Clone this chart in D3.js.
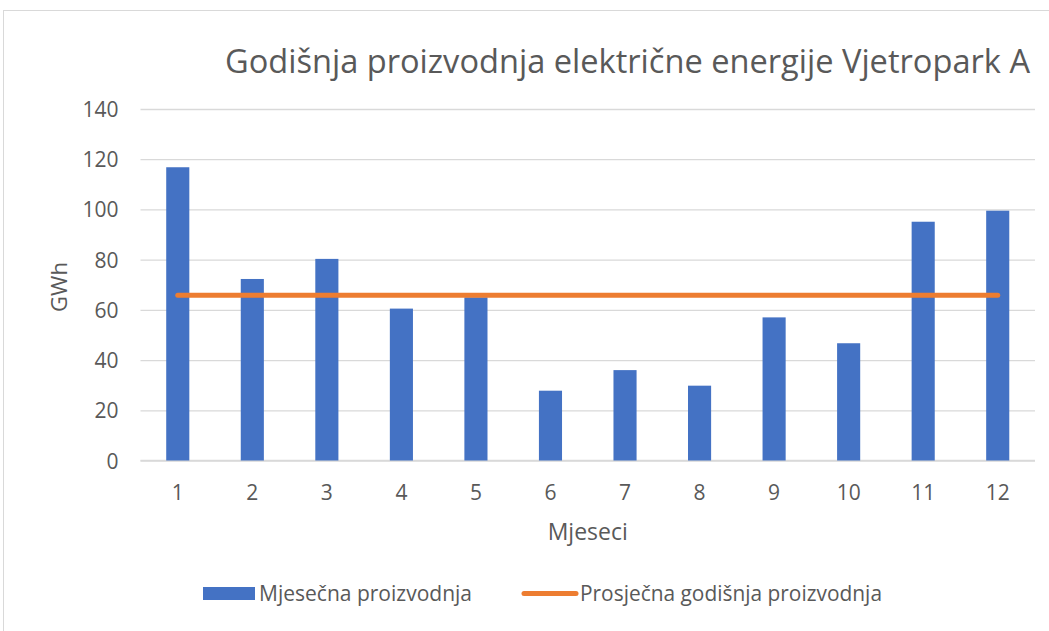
<!DOCTYPE html>
<html>
<head>
<meta charset="utf-8">
<script src="https://cdn.jsdelivr.net/npm/d3@7/dist/d3.min.js"></script>
<style>
  html, body { margin: 0; padding: 0; background: #ffffff; }
  svg { display: block; font-family: "Open Sans", "Noto Sans", sans-serif; }
</style>
</head>
<body>
<svg id="chart" width="1049" height="631"></svg>
<script>
// Monthly wind-farm output (GWh) and the yearly average line
const months = ["1", "2", "3", "4", "5", "6", "7", "8", "9", "10", "11", "12"];
const monthlyOutput = [116.8, 72.3, 80.3, 60.5, 65.0, 27.8, 36.0, 29.8, 57.0, 46.7, 95.1, 99.5];
const averageOutput = [65.8, 65.8, 65.8, 65.8, 65.8, 65.8, 65.8, 65.8, 65.8, 65.8, 65.8, 65.8];
const yTicks = [0, 20, 40, 60, 80, 100, 120, 140];

const titleText = "Godišnja proizvodnja električne energije Vjetropark A";
const xTitle = "Mjeseci";
const yTitle = "GWh";
const seriesNames = ["Mjesečna proizvodnja", "Prosječna godišnja proizvodnja"];

const fontFamily = '"Open Sans", "Noto Sans", sans-serif';
const textColor = "#595959";
const barColor = "#4472C4";
const lineColor = "#ED7D31";
const gridColor = "#D9D9D9";

const svg = d3.select("#chart");

// chart frame
svg.append("rect")
  .attr("x", 3.5).attr("y", 10.5)
  .attr("width", 1100).attr("height", 700)
  .attr("fill", "#ffffff")
  .attr("stroke", "#D9D9D9").attr("stroke-width", 1);

const plot = { left: 140.5, right: 1035, top: 109, bottom: 460.5 };

const x = d3.scaleBand().domain(months).range([plot.left, plot.right]).padding(0);
const y = d3.scaleLinear().domain([0, 140]).range([plot.bottom, plot.top]);

// horizontal gridlines + y tick labels
const yAxis = d3.axisLeft(y)
  .tickValues(yTicks)
  .tickSize(-(plot.right - plot.left))
  .tickPadding(22)
  .tickFormat(d3.format("d"));

const gy = svg.append("g")
  .attr("transform", `translate(${plot.left},0)`)
  .call(yAxis)
  .attr("font-family", fontFamily)
  .attr("font-size", 21);
gy.select(".domain").remove();
gy.selectAll(".tick line").attr("stroke", gridColor).attr("stroke-width", 1.3);
gy.selectAll(".tick text")
  .attr("fill", textColor)
  .attr("dy", "0.36em");

// x axis line and month labels
const xAxis = d3.axisBottom(x).tickSize(0).tickPadding(24.5);
const gx = svg.append("g")
  .attr("transform", `translate(0,${plot.bottom})`)
  .call(xAxis)
  .attr("font-family", fontFamily)
  .attr("font-size", 21);
gx.select(".domain").remove();
gx.selectAll(".tick text").attr("fill", textColor);
svg.append("line")
  .attr("x1", plot.left).attr("x2", plot.right)
  .attr("y1", plot.bottom).attr("y2", plot.bottom)
  .attr("stroke", gridColor).attr("stroke-width", 1.5);

// bars
const barW = x.bandwidth() * 0.31;
svg.append("g").selectAll("rect")
  .data(monthlyOutput)
  .join("rect")
  .attr("x", (d, i) => x(months[i]) + x.bandwidth() / 2 - barW / 2)
  .attr("y", d => y(d))
  .attr("width", barW)
  .attr("height", d => y(0) - y(d))
  .attr("fill", barColor);

// average line
const line = d3.line()
  .x((d, i) => x(months[i]) + x.bandwidth() / 2)
  .y(d => y(d));
svg.append("path")
  .datum(averageOutput)
  .attr("d", line)
  .attr("fill", "none")
  .attr("stroke", lineColor)
  .attr("stroke-width", 5)
  .attr("stroke-linecap", "round");

// title
svg.append("text")
  .attr("x", 225).attr("y", 73)
  .attr("fill", textColor)
  .style("font-size", "33px")
  .attr("textLength", 805)
  .attr("lengthAdjust", "spacingAndGlyphs")
  .text(titleText);

// axis titles
svg.append("text")
  .attr("x", (plot.left + plot.right) / 2).attr("y", 540)
  .attr("text-anchor", "middle")
  .attr("fill", textColor)
  .style("font-size", "23px")
  .text(xTitle);

svg.append("text")
  .attr("transform", "translate(67,287) rotate(-90)")
  .attr("text-anchor", "middle")
  .attr("fill", textColor)
  .style("font-size", "22px")
  .text(yTitle);

// legend
const lg = svg.append("g");
lg.append("rect")
  .attr("x", 203).attr("y", 587)
  .attr("width", 52).attr("height", 13)
  .attr("fill", barColor);
lg.append("text")
  .attr("x", 259).attr("y", 601)
  .attr("fill", textColor)
  .style("font-size", "22px")
  .attr("textLength", 213)
  .attr("lengthAdjust", "spacingAndGlyphs")
  .text(seriesNames[0]);
lg.append("line")
  .attr("x1", 524).attr("x2", 576)
  .attr("y1", 593.5).attr("y2", 593.5)
  .attr("stroke", lineColor)
  .attr("stroke-width", 5)
  .attr("stroke-linecap", "round");
lg.append("text")
  .attr("x", 580).attr("y", 601)
  .attr("fill", textColor)
  .style("font-size", "22px")
  .attr("textLength", 302)
  .attr("lengthAdjust", "spacingAndGlyphs")
  .text(seriesNames[1]);
</script>
</body>
</html>
